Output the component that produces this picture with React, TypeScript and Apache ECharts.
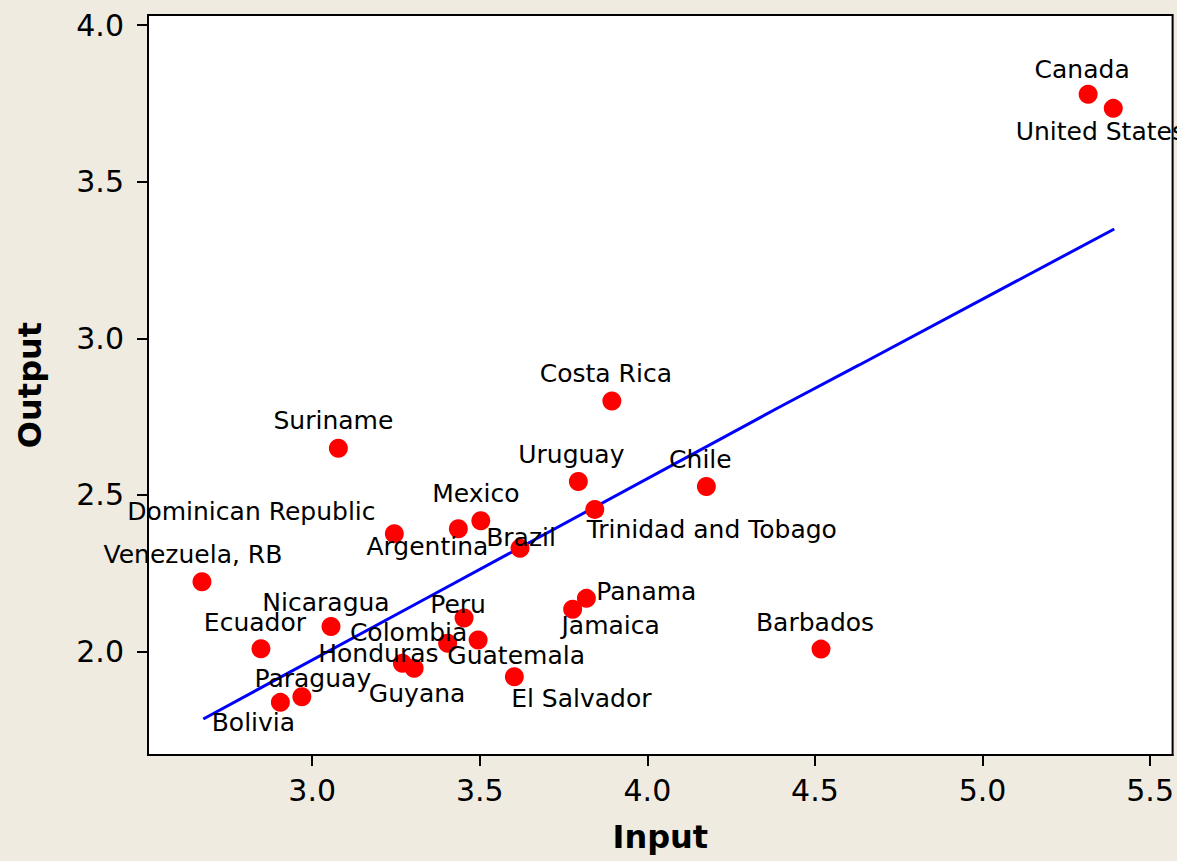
import React, { useEffect, useRef } from "react";
import * as echarts from "echarts";

const countries = [
  "Canada", "United States", "Costa Rica", "Suriname", "Uruguay", "Chile",
  "Trinidad and Tobago", "Mexico", "Argentina", "Dominican Republic", "Brazil",
  "Venezuela, RB", "Panama", "Jamaica", "Peru", "Nicaragua", "Guatemala",
  "Colombia", "Ecuador", "Barbados", "Honduras", "Guyana", "El Salvador",
  "Paraguay", "Bolivia",
];
const inputValues = [
  5.315, 5.39, 3.894, 3.078, 3.794, 4.176,
  3.843, 3.503, 3.436, 3.245, 3.62,
  2.671, 3.818, 3.777, 3.453, 3.056, 3.495,
  3.404, 2.847, 4.518, 3.269, 3.304, 3.603,
  2.969, 2.905,
];
const outputValues = [
  3.779, 3.734, 2.8, 2.649, 2.543, 2.527,
  2.454, 2.418, 2.392, 2.376, 2.33,
  2.223, 2.17, 2.135, 2.107, 2.08, 2.037,
  2.027, 2.009, 2.008, 1.963, 1.947, 1.92,
  1.856, 1.838,
];
const fitInput = [2.675, 3.349, 4.393, 4.632, 5.393];
const fitOutput = [1.785, 2.175, 2.78, 2.915, 3.349];
const xTickValues = [3.0, 3.5, 4.0, 4.5, 5.0, 5.5];
const yTickValues = [2.0, 2.5, 3.0, 3.5, 4.0];

// label placement (pixel offsets from the point centre)
const labelOffsets: Record<string, [number, number]> = {
  "Canada": [-6, -25],
  "United States": [-13, 23],
  "Costa Rica": [-6, -27],
  "Suriname": [-5, -28],
  "Uruguay": [-7, -27],
  "Chile": [-6, -27],
  "Trinidad and Tobago": [117, 20],
  "Mexico": [-5, -27],
  "Argentina": [-31, 18],
  "Dominican Republic": [-143, -22],
  "Brazil": [1, -11],
  "Venezuela, RB": [-9, -27],
  "Panama": [60, -7],
  "Jamaica": [38, 16],
  "Peru": [-6, -14],
  "Nicaragua": [-5, -24],
  "Guatemala": [38, 15],
  "Colombia": [-39, -11],
  "Ecuador": [-6, -26],
  "Barbados": [-6, -27],
  "Honduras": [-24, -10],
  "Guyana": [3, 25],
  "El Salvador": [67, 22],
  "Paraguay": [11, -18],
  "Bolivia": [-27, 20],
};

const FONT = "'DejaVu Sans', Verdana, sans-serif";

export default function App() {
  const ref = useRef<HTMLDivElement>(null);
  useEffect(() => {
    if (!ref.current) return;
    const chart = echarts.init(ref.current, undefined, { renderer: "svg" });
    const scatterData = countries.map((name, i) => ({
      name,
      value: [inputValues[i], outputValues[i]],
      label: { offset: labelOffsets[name] || [0, -27] },
    }));
    const fitData = fitInput.map((x, i) => [x, fitOutput[i]]);
    chart.setOption({
      animation: false,
      backgroundColor: "#EFEBE1",
      textStyle: { fontFamily: FONT },
      grid: {
        left: 148,
        top: 15,
        right: 4,
        bottom: 106,
        show: true,
        backgroundColor: "#ffffff",
        borderColor: "#000000",
        borderWidth: 2,
      },
      xAxis: {
        type: "value",
        min: 2.51,
        max: 5.567,
        name: "Input",
        nameLocation: "middle",
        nameGap: 66,
        nameTextStyle: { fontFamily: FONT, fontSize: 32, fontWeight: "bold", color: "#000" },
        axisLine: { show: true, onZero: false, lineStyle: { color: "#000", width: 2 } },
        axisTick: { show: true, length: 11, customValues: xTickValues, lineStyle: { color: "#000", width: 2 } },
        axisLabel: {
          customValues: xTickValues,
          margin: 20,
          fontFamily: FONT,
          fontSize: 30,
          color: "#000",
          formatter: (v: number) => v.toFixed(1),
        },
        splitLine: { show: false },
      },
      yAxis: {
        type: "value",
        min: 1.67,
        max: 4.032,
        name: "Output",
        nameLocation: "middle",
        nameRotate: 90,
        nameGap: 102,
        nameTextStyle: { fontFamily: FONT, fontSize: 32, fontWeight: "bold", color: "#000" },
        axisLine: { show: true, onZero: false, lineStyle: { color: "#000", width: 2 } },
        axisTick: { show: true, length: 11, customValues: yTickValues, lineStyle: { color: "#000", width: 2 } },
        axisLabel: {
          customValues: yTickValues,
          margin: 24,
          fontFamily: FONT,
          fontSize: 30,
          color: "#000",
          formatter: (v: number) => v.toFixed(1),
        },
        splitLine: { show: false },
      },
      series: [
        {
          type: "line",
          data: fitData,
          showSymbol: false,
          symbol: "none",
          lineStyle: { color: "#0000FF", width: 3 },
          z: 1,
          silent: true,
        },
        {
          type: "scatter",
          data: scatterData,
          symbol: "circle",
          symbolSize: 19,
          itemStyle: { color: "#FF0000", opacity: 1 },
          z: 2,
          label: {
            show: true,
            position: "inside",
            formatter: (p: any) => p.name,
            fontFamily: FONT,
            fontSize: 25,
            color: "#000",
            align: "center",
            verticalAlign: "middle",
          },
        },
      ],
    });
    return () => chart.dispose();
  }, []);
  return (
    <div
      ref={ref}
      style={{ position: "fixed", left: 0, top: 0, width: 1177, height: 861 }}
    />
  );
}
